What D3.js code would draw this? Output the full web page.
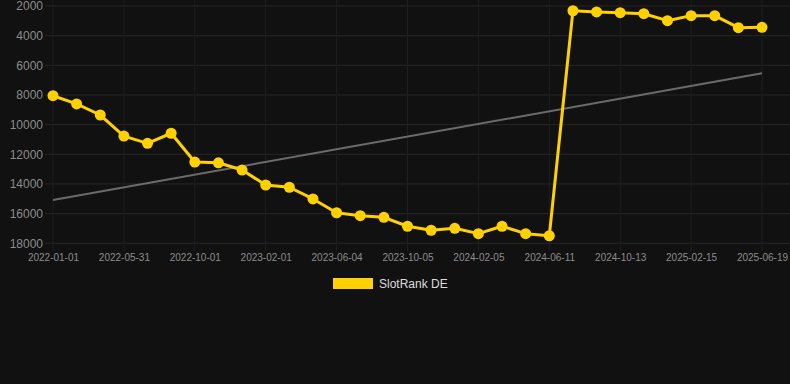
<!DOCTYPE html>
<html>
<head>
<meta charset="utf-8">
<script src="https://cdn.jsdelivr.net/npm/d3@7"></script>
<style>
  html, body { margin: 0; padding: 0; background: #111111; }
  svg { display: block; }
</style>
</head>
<body>
<svg id="chart" width="790" height="384"></svg>
<script>
// ---- data ----
const tickLabels = ["2022-01-01","2022-05-31","2022-10-01","2023-02-01","2023-06-04","2023-10-05","2024-02-05","2024-06-11","2024-10-13","2025-02-15","2025-06-19"];
const rankValues = [8050, 8600, 9350, 10770, 11260, 10580, 12520, 12570, 13060, 14070, 14220, 15010, 15940, 16140, 16250, 16850, 17120, 16990, 17350, 16850, 17350, 17490, 2320, 2400, 2450, 2520, 2990, 2650, 2650, 3460, 3440];
const trendValues = [15080, 6540];
const yTicks = [2000, 4000, 6000, 8000, 10000, 12000, 14000, 16000, 18000];
const seriesName = "SlotRank DE";

// ---- layout ----
const W = 790, H = 384;
const svg = d3.select("#chart");
const x = d3.scaleLinear().domain([0, rankValues.length - 1]).range([53, 762]);
const y = d3.scaleLinear().domain([2000, 18000]).range([6, 243.3]);
const gold = "#FFD100";
const font = "'Liberation Sans', Arial, Helvetica, sans-serif";

// horizontal grid
svg.append("g").selectAll("line").data(yTicks).join("line")
  .attr("x1", 45).attr("x2", W)
  .attr("y1", d => y(d)).attr("y2", d => y(d))
  .attr("stroke", "#262626").attr("stroke-width", 1);

// vertical grid at labelled ticks (every 3rd point)
const tickIdx = tickLabels.map((_, i) => i * 3);
svg.append("g").selectAll("line").data(tickIdx).join("line")
  .attr("x1", d => x(d)).attr("x2", d => x(d))
  .attr("y1", 0).attr("y2", 251)
  .attr("stroke", "#1f1f1f").attr("stroke-width", 1);

// y axis labels
const yAxis = d3.axisLeft(y).tickValues(yTicks).tickSize(0).tickPadding(0).tickFormat(d3.format("d"));
const gy = svg.append("g").attr("transform", "translate(43,0)").call(yAxis);
gy.select(".domain").remove();
gy.selectAll("text").attr("fill", "#8c8c8c").attr("font-size", 12).attr("font-family", font);

// x axis labels
const xAxis = d3.axisBottom(x).tickValues(tickIdx).tickSize(0).tickPadding(0)
  .tickFormat((d, i) => tickLabels[i]);
const gx = svg.append("g").attr("transform", "translate(0,254)").call(xAxis);
gx.select(".domain").remove();
gx.selectAll("text").attr("fill", "#8c8c8c").attr("font-size", 10).attr("font-family", font);

// trend line
svg.append("line")
  .attr("x1", x(0)).attr("y1", y(trendValues[0]))
  .attr("x2", x(rankValues.length - 1)).attr("y2", y(trendValues[1]))
  .attr("stroke", "#6b6b6b").attr("stroke-width", 2);

// series line
const line = d3.line().x((d, i) => x(i)).y(d => y(d));
svg.append("path").datum(rankValues)
  .attr("d", line).attr("fill", "none")
  .attr("stroke", gold).attr("stroke-width", 3).attr("stroke-linejoin", "round");

svg.append("g").selectAll("circle").data(rankValues).join("circle")
  .attr("cx", (d, i) => x(i)).attr("cy", d => y(d)).attr("r", 5.5)
  .attr("fill", gold);

// legend
const lg = svg.append("g");
lg.append("rect").attr("x", 333).attr("y", 278).attr("width", 40).attr("height", 11).attr("fill", gold);
lg.append("text").attr("x", 379).attr("y", 288).text(seriesName)
  .attr("fill", "#dddddd").attr("font-size", 12).attr("font-family", font);
</script>
</body>
</html>
